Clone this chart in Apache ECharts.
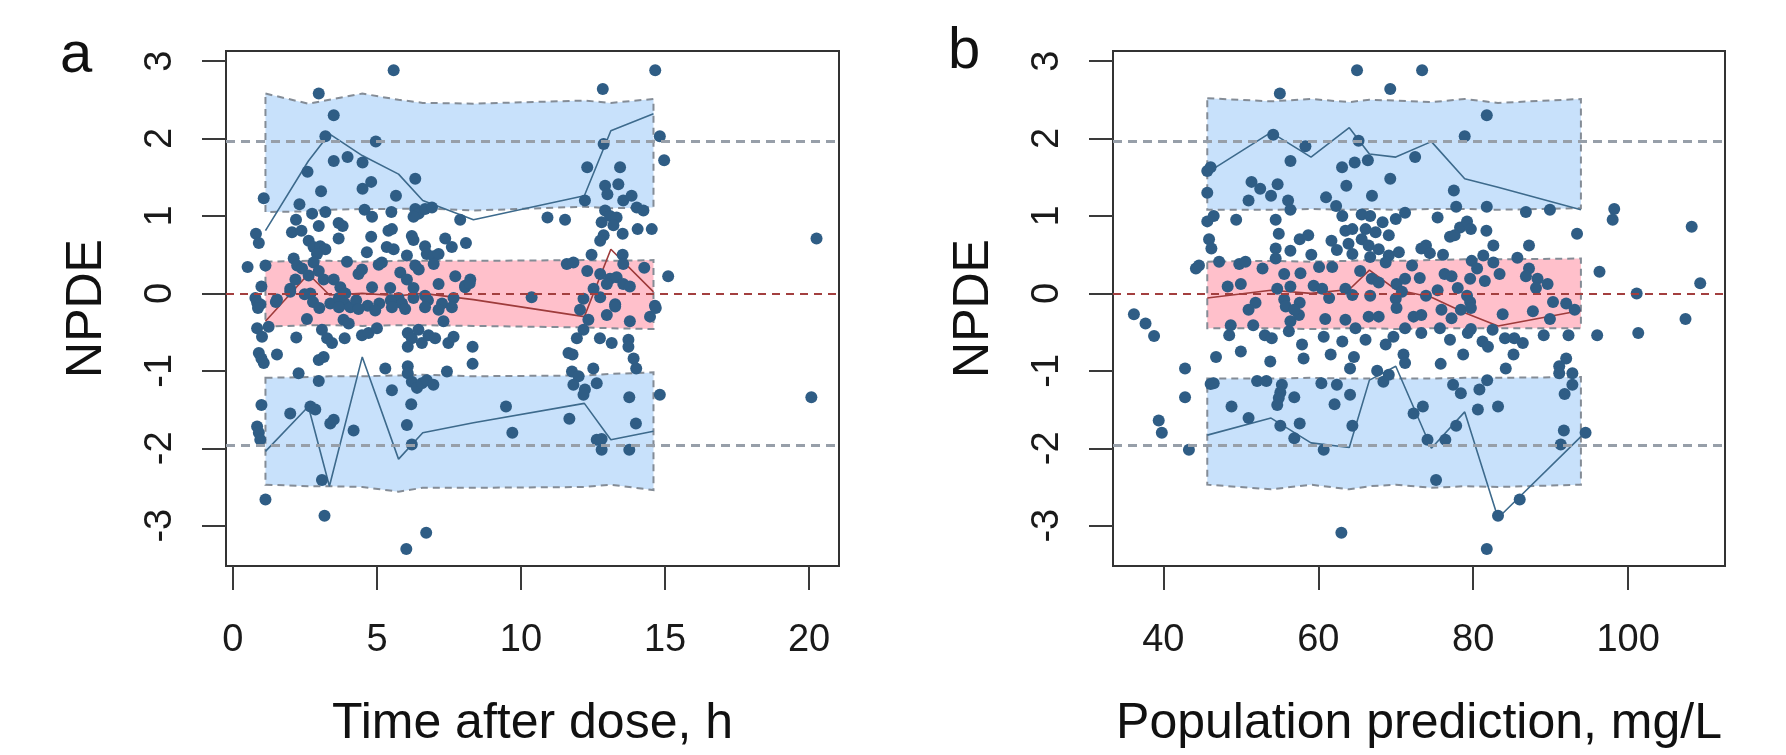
<!DOCTYPE html>
<html>
<head>
<meta charset="utf-8">
<script src="https://cdn.jsdelivr.net/npm/echarts@6/dist/echarts.min.js"></script>
<style>
html, body { margin: 0; padding: 0; background: #fff; }
#chart { width: 1786px; height: 755px; }
</style>
</head>
<body>
<div id="chart"></div>
<script>
// tick labels
var xTicksA = [0, 5, 10, 15, 20];
var xTicksB = [40, 60, 80, 100];
var yTicks = [-3, -2, -1, 0, 1, 2, 3];

// panel a: NPDE vs time after dose
var pointsA = [
  [5.58,2.88],[2.98,2.58],[3.50,2.30],[3.21,2.03],[4.96,1.96],[2.59,1.57],[3.50,1.71],[3.98,1.76],[4.50,1.69],[4.80,1.44],
  [4.50,1.35],[6.33,1.48],[1.07,1.23],[3.06,1.32],[5.66,1.26],[2.31,1.15],[2.75,1.03],[3.21,1.05],[4.57,1.08],[4.83,0.99],
  [5.50,1.05],[6.33,1.09],[6.45,1.03],[6.67,1.09],[6.91,1.11],[6.27,0.99],[7.89,0.95],[2.19,0.95],[2.98,0.87],[3.67,0.91],
  [3.81,0.87],[3.67,0.71],[2.05,0.79],[2.38,0.81],[0.80,0.77],[0.90,0.65],[2.63,0.68],[2.80,0.60],[3.03,0.61],[3.21,0.57],
  [2.92,0.51],[4.80,0.73],[5.40,0.81],[5.52,0.83],[6.21,0.74],[6.27,0.69],[5.34,0.60],[5.58,0.57],[4.65,0.53],[6.04,0.49],
  [6.67,0.61],[6.73,0.51],[6.97,0.48],[7.14,0.51],[7.37,0.71],[7.60,0.60],[8.09,0.65],[2.11,0.45],[2.23,0.36],[0.51,0.34],
  [1.13,0.36],[0.99,0.09],[3.96,0.41],[5.06,0.37],[5.17,0.40],[4.36,0.25],[4.48,0.31],[5.81,0.27],[6.04,0.18],[6.45,0.31],
  [6.33,0.36],[6.97,0.38],[7.72,0.22],[8.24,0.18],[8.06,0.10],[7.14,0.12],[4.83,0.08],[1.99,0.06],[2.40,0.32],[2.63,0.23],
  [2.80,0.40],[2.98,0.29],[3.15,0.18],[3.50,0.18],[3.73,0.08],[3.90,0.00],[2.69,0.00],[1.53,-0.08],[0.78,-0.06],[5.46,0.07],
  [5.75,-0.06],[6.67,-0.03],[6.27,0.07],[2.17,0.18],
  [0.84,-0.12],[0.95,-0.14],[1.49,-0.11],[1.99,0.02],[2.49,-0.01],[2.78,-0.11],[3.38,-0.13],[3.68,-0.06],[3.88,-0.13],[4.08,-0.18],
  [4.28,-0.09],[4.68,-0.16],[5.08,-0.13],[5.48,-0.09],[5.87,-0.13],[6.27,-0.06],[6.77,-0.09],[7.26,-0.13],[7.66,-0.06],[8.06,0.08],
  [8.22,0.13],[3.00,-0.19],[3.68,-0.18],[4.36,-0.20],[4.94,-0.22],[5.52,-0.18],[5.98,-0.20],[6.67,-0.18],[7.14,-0.21],[7.60,-0.18],
  [0.87,-0.19],[0.84,-0.45],[1.01,-0.56],[1.24,-0.43],[0.90,-0.77],[1.07,-0.90],[0.99,-0.84],[1.53,-0.79],[2.20,-0.57],[2.57,-0.33],
  [3.09,-0.47],[3.27,-0.58],[3.44,-0.64],[3.84,-0.34],[4.02,-0.39],[3.88,-0.58],[4.48,-0.54],[4.71,-0.51],[5.00,-0.45],[3.15,-0.82],
  [2.98,-0.86],[2.28,-1.03],[2.98,-1.13],[5.29,-0.97],[5.52,-1.25],[6.07,-0.51],[6.21,-0.58],[6.44,-0.47],[6.56,-0.64],[6.79,-0.54],
  [7.02,-0.58],[7.31,-0.36],[7.48,-0.64],[7.66,-0.56],[6.07,-0.69],[6.07,-0.94],[6.07,-1.03],[6.21,-1.14],[6.39,-1.22],[6.56,-1.16],
  [6.73,-1.12],[6.96,-1.18],[7.43,-1.01],[8.32,-0.69],[8.32,-0.91],[6.19,-1.43],[6.04,-1.70],[6.21,-1.95],[0.99,-1.44],[0.84,-1.72],
  [0.90,-1.80],[0.95,-1.89],[1.99,-1.55],[2.69,-1.46],[2.86,-1.50],[3.38,-1.68],[3.50,-1.63],[4.19,-1.77],[3.09,-2.41],[1.13,-2.66],
  [3.18,-2.87],[6.71,-3.09],[6.02,-3.30],[9.48,-1.46],[9.70,-1.80],
  [14.66,2.88],[12.84,2.64],[14.82,2.03],[12.87,1.93],[14.97,1.72],[12.30,1.63],[13.44,1.63],[13.38,1.41],[12.92,1.39],[13.00,1.28],
  [12.22,1.20],[13.55,1.20],[13.84,1.26],[14.02,1.11],[14.25,1.07],[10.92,0.98],[11.53,0.95],[12.92,1.07],[12.80,0.92],[13.09,1.00],
  [13.32,0.98],[13.21,0.88],[13.53,0.77],[14.05,0.83],[14.54,0.83],[12.87,0.75],[12.75,0.68],[20.26,0.71],[12.45,0.50],[13.53,0.50],
  [11.59,0.38],[11.82,0.40],[13.55,0.38],[14.28,0.33],[12.30,0.29],[12.75,0.25],[15.11,0.22],[13.09,0.19],[13.32,0.21],[13.55,0.12],
  [13.78,0.09],[12.52,0.06],[12.98,0.12],[12.75,-0.05],[12.17,-0.07],[14.65,-0.16],[10.37,-0.05],[13.27,-0.14],
  [12.05,-0.21],[12.34,-0.34],[12.98,-0.28],[13.78,-0.36],[14.48,-0.30],[14.68,-0.19],[13.27,-0.17],[12.17,-0.47],[11.94,-0.58],[12.74,-0.58],
  [13.15,-0.64],[13.73,-0.60],[13.73,-0.69],[11.65,-0.77],[11.79,-0.79],[13.91,-0.84],[14.00,-0.97],[12.51,-0.97],[11.77,-1.01],[12.00,-1.07],
  [11.82,-1.18],[12.22,-1.24],[12.63,-1.16],[12.17,-1.31],[13.76,-1.34],[14.82,-1.31],[20.08,-1.34],[11.68,-1.62],[13.99,-1.68],[12.63,-1.89],
  [12.80,-2.02],[13.76,-2.02],[12.80,-1.88]
];

// panel a: bins, observed percentiles, prediction interval bands
var binsA = [1.13, 2.62, 3.35, 4.49, 5.75, 6.59, 8.35, 12.2, 13.12, 14.6];
var p95A = [0.81, 1.71, 2.06, 1.78, 1.54, 1.20, 0.95, 1.26, 2.10, 2.32];
var p50A = [-0.36, 0.25, -0.02, 0.00, -0.03, 0.00, -0.08, -0.30, 0.57, 0.02];
var p05A = [-2.04, -1.46, -2.49, -0.82, -2.14, -1.80, -1.67, -1.42, -1.89, -1.78];
var upTopA = [2.58, 2.45, 2.50, 2.58, 2.50, 2.46, 2.45, 2.49, 2.46, 2.51];
var upBotA = [1.05, 1.06, 1.08, 1.09, 1.09, 1.10, 1.07, 1.12, 1.10, 1.11];
var midTopA = [0.41, 0.42, 0.42, 0.41, 0.42, 0.42, 0.42, 0.43, 0.42, 0.43];
var midBotA = [-0.43, -0.41, -0.41, -0.42, -0.41, -0.41, -0.42, -0.44, -0.45, -0.46];
var lowTopA = [-1.09, -1.08, -1.07, -1.07, -1.06, -1.05, -1.07, -1.06, -1.04, -1.02];
var lowBotA = [-2.47, -2.49, -2.49, -2.50, -2.56, -2.51, -2.51, -2.50, -2.47, -2.54];

// panel b: NPDE vs population prediction
var pointsB = [
  [65.0,2.88],[69.29,2.64],[55.04,2.58],[73.4,2.88],[54.18,2.05],[58.34,1.90],[65.2,1.97],[45.67,1.58],[46.1,1.63],[56.41,1.71],
  [63.07,1.63],[64.7,1.69],[66.4,1.72],[72.5,1.76],[69.29,1.48],[45.67,1.30],[51.38,1.44],[52.5,1.35],[54.75,1.41],[53.9,1.26],
  [51.0,1.20],[56.1,1.20],[56.4,1.08],[63.62,1.39],[66.93,1.26],[61.0,1.24],[62.3,1.13],[45.67,0.93],[46.5,1.00],[49.4,0.95],
  [54.5,0.95],[63.1,1.00],[63.5,0.81],[64.4,0.83],[65.6,1.02],[66.7,1.00],[66.1,0.83],[67.4,0.79],[68.3,0.92],[69.1,0.75],
  [70.0,0.96],[71.2,1.04],[45.9,0.70],[46.2,0.58],[54.9,0.77],[54.5,0.58],[57.6,0.70],[58.7,0.75],[56.4,0.55],[59.1,0.50],
  [61.7,0.68],[62.4,0.56],[63.9,0.64],[64.4,0.51],[65.6,0.70],[66.5,0.62],[66.7,0.47],[67.8,0.57],[69.1,0.49],[70.4,0.53],
  [44.6,0.36],[44.2,0.32],[47.2,0.41],[49.8,0.38],[50.6,0.41],[52.8,0.32],[54.5,0.45],[55.6,0.25],[57.7,0.26],[60.1,0.34],
  [61.8,0.34],[48.3,0.09],[50.0,0.12],[54.7,0.06],[56.4,0.09],[59.4,0.10],[60.5,0.06],[63.5,0.06],[64.4,-0.02],[65.4,0.29],
  [66.9,0.19],[67.8,0.14],[68.7,0.40],[70.1,0.12],[71.2,0.19],[72.1,0.36],[55.6,-0.08],[57.6,-0.12],[61.4,-0.06],[51.9,-0.12],
  [70.0,-0.07],[70.8,0.02],[66.7,-0.03],
  [36.2,-0.27],[37.7,-0.39],[38.8,-0.55],[42.8,-0.97],[42.8,-1.34],[39.4,-1.64],[39.8,-1.80],[43.3,-2.02],[46.8,-0.82],[48.5,-0.54],
  [48.7,-0.41],[50.0,-0.75],[46.1,-1.17],[46.5,-1.16],[48.8,-1.46],[51.0,-1.61],[52.1,-1.13],[53.3,-1.13],[53.8,-0.88],[55.3,-1.18],
  [55.1,-1.28],[54.9,-1.35],[54.7,-1.44],[55.1,-1.71],[56.9,-1.34],[57.6,-1.68],[56.9,-1.87],[60.7,-2.02],[57.9,-0.66],[58.1,-0.84],
  [56.2,-0.49],[60.4,-1.16],[62.4,-1.18],[62.1,-1.43],[64.1,-1.31],[64.4,-1.71],[61.6,-0.79],[60.7,-0.56],[63.1,-0.62],[64.6,-0.82],
  [64.1,-0.97],[67.6,-1.00],[68.4,-1.14],[69.1,-1.05],[66.1,-0.60],[68.7,-0.66],[69.7,-0.56],[71.2,-0.45],[71.0,-0.79],[71.2,-0.90],
  [72.3,-1.55],[62.98,-3.09],[51.0,-0.21],[51.6,-0.41],[53.1,-0.54],[54.0,-0.58],[56.4,-0.36],[57.5,-0.28],[60.9,-0.33],[63.5,-0.34],
  [64.8,-0.45],[66.5,-0.30],[67.8,-0.30],[70.1,-0.19],[72.3,-0.30],[55.8,-0.17],[56.9,-0.21],
  [81.75,2.30],[78.9,2.03],[77.5,1.33],[77.8,1.12],[81.75,1.12],[75.4,0.98],[86.8,1.05],[89.9,1.08],[98.2,1.09],[98.0,0.95],
  [108.2,0.86],[93.4,0.77],[78.3,0.85],[79.2,0.93],[79.7,0.83],[81.7,0.81],[77.0,0.73],[77.6,0.75],[73.9,0.62],[73.3,0.58],
  [74.4,0.52],[76.1,0.50],[82.6,0.62],[87.2,0.62],[85.7,0.46],[79.8,0.42],[81.3,0.49],[82.6,0.40],[80.5,0.32],[83.4,0.25],
  [76.3,0.25],[77.2,0.22],[73.1,0.20],[79.6,0.19],[81.5,0.16],[87.2,0.32],[86.8,0.22],[88.3,0.19],[89.6,0.12],[88.1,0.07],
  [78.0,0.07],[75.4,0.04],[79.2,-0.03],[96.3,0.28],[101.1,0.00],[109.3,0.13],[90.3,-0.11],[92.0,-0.13],[73.9,-0.03],[79.6,-0.11],
  [107.4,-0.33],[101.3,-0.51],[96.0,-0.54],[92.3,-0.54],[89.1,-0.54],[89.9,-0.33],[87.7,-0.23],[83.8,-0.27],[73.3,-0.51],[75.7,-0.45],
  [77.0,-0.60],[79.3,-0.51],[79.7,-0.46],[81.2,-0.62],[81.9,-0.69],[82.5,-0.47],[84.1,-0.58],[85.3,-0.58],[86.4,-0.64],[78.7,-0.79],
  [75.8,-0.91],[85.2,-0.79],[84.2,-0.97],[92.0,-0.84],[91.1,-0.94],[91.1,-1.03],[92.8,-1.03],[92.8,-1.18],[91.8,-1.30],[77.4,-1.18],
  [78.4,-1.29],[80.8,-1.24],[81.8,-1.12],[80.6,-1.50],[83.2,-1.46],[73.5,-1.46],[77.8,-1.71],[74.1,-1.89],[76.4,-1.89],[75.2,-2.41],
  [91.7,-1.77],[91.3,-1.95],[94.5,-1.80],[86.0,-2.66],[83.2,-2.87],[81.75,-3.30],[73.3,-0.28],[75.9,-0.21],[77.2,-0.32],[78.4,-0.21],
  [79.7,-0.19],[93.1,-0.21]
];

// panel b: bins, observed percentiles, prediction interval bands
var binsB = [45.67, 53.9, 59.06, 64.0, 66.6, 70.0, 74.6, 78.9, 83.2, 93.9];
var p95B = [1.56, 2.08, 1.76, 2.14, 1.80, 1.76, 1.96, 1.48, 1.37, 1.08];
var p50B = [-0.06, 0.04, 0.00, 0.05, 0.30, 0.05, -0.05, -0.25, -0.42, -0.22];
var p05B = [-1.83, -1.61, -1.93, -1.99, -1.12, -0.94, -2.00, -1.53, -2.90, -1.85];
var upTopB = [2.52, 2.48, 2.51, 2.47, 2.50, 2.49, 2.47, 2.51, 2.46, 2.51];
var upBotB = [1.08, 1.08, 1.09, 1.08, 1.09, 1.08, 1.09, 1.09, 1.08, 1.10];
var midTopB = [0.41, 0.42, 0.41, 0.42, 0.43, 0.42, 0.43, 0.44, 0.44, 0.45];
var midBotB = [-0.45, -0.45, -0.46, -0.45, -0.45, -0.46, -0.45, -0.45, -0.45, -0.45];
var lowTopB = [-1.10, -1.10, -1.09, -1.10, -1.10, -1.10, -1.10, -1.09, -1.09, -1.08];
var lowBotB = [-2.47, -2.53, -2.47, -2.53, -2.49, -2.47, -2.51, -2.49, -2.50, -2.47];

var FONT = '"Liberation Sans", Arial, sans-serif';
var BLUE_BAND = '#c8e1fb';
var PINK_BAND = '#ffc0cb';
var DOT = '#2f5d85';

function zip(xs, ys) {
  var out = [];
  for (var i = 0; i < xs.length; i++) out.push([xs[i], ys[i]]);
  return out;
}

function band(xs, lo, hi, fill, gi) {
  return {
    type: 'custom', xAxisIndex: gi, yAxisIndex: gi, z: 1, silent: true,
    data: [[xs[0], lo[0]]],
    renderItem: function (params, api) {
      var pts = [];
      for (var i = 0; i < xs.length; i++) pts.push(api.coord([xs[i], hi[i]]));
      for (var j = xs.length - 1; j >= 0; j--) pts.push(api.coord([xs[j], lo[j]]));
      return {
        type: 'polygon',
        shape: { points: pts },
        style: { fill: fill, stroke: '#848c96', lineWidth: 2, lineDash: [7, 5] }
      };
    }
  };
}

function pctLine(xs, ys, color, gi, withRefs) {
  var s = {
    type: 'line', xAxisIndex: gi, yAxisIndex: gi, z: 3, silent: true,
    data: zip(xs, ys), symbol: 'none',
    lineStyle: { color: color, width: 1.6 }
  };
  if (withRefs) {
    s.markLine = {
      silent: true, symbol: 'none', label: { show: false },
      data: [
        { yAxis: 0, lineStyle: { color: '#a33f3f', type: [8, 6], width: 2 } },
        { yAxis: 1.96, lineStyle: { color: '#979fa9', type: [9, 6], width: 3 } },
        { yAxis: -1.96, lineStyle: { color: '#979fa9', type: [9, 6], width: 3 } }
      ]
    };
  }
  return s;
}

function xAxis(gi, min, max, ticks, name) {
  return {
    gridIndex: gi, type: 'value', min: min, max: max,
    axisLine: { show: false, onZero: false }, splitLine: { show: false },
    axisTick: { show: true, inside: false, length: 24, customValues: ticks, lineStyle: { color: '#3a3a3a', width: 2 } },
    axisLabel: { customValues: ticks, margin: 56, fontSize: 38, color: '#1a1a1a', fontFamily: FONT },
    name: name, nameLocation: 'middle', nameGap: 133,
    nameTextStyle: { fontSize: 50, color: '#111', fontFamily: FONT }
  };
}

function yAxis(gi) {
  return {
    gridIndex: gi, type: 'value', min: -3.52, max: 3.13,
    axisLine: { show: false, onZero: false }, splitLine: { show: false },
    axisTick: { show: true, inside: false, length: 24, customValues: yTicks, lineStyle: { color: '#3a3a3a', width: 2 } },
    axisLabel: { customValues: yTicks, rotate: 90, margin: 46, fontSize: 38, color: '#1a1a1a', fontFamily: FONT },
    name: 'NPDE', nameLocation: 'middle', nameGap: 114,
    nameTextStyle: { fontSize: 50, color: '#111', fontFamily: FONT }
  };
}

var chart = echarts.init(document.getElementById('chart'));
chart.setOption({
  animation: false,
  backgroundColor: '#fff',
  grid: [
    { left: 226, top: 51, width: 613, height: 515, show: true, borderColor: '#333', borderWidth: 2 },
    { left: 1113, top: 51, width: 612, height: 515, show: true, borderColor: '#333', borderWidth: 2 }
  ],
  xAxis: [
    xAxis(0, -0.24, 21.04, xTicksA, 'Time after dose, h'),
    xAxis(1, 33.5, 112.5, xTicksB, 'Population prediction, mg/L')
  ],
  yAxis: [yAxis(0), yAxis(1)],
  graphic: [
    { type: 'text', left: 60, top: 27, style: { text: 'a', fontSize: 58, fill: '#111', fontFamily: FONT } },
    { type: 'text', left: 948, top: 23, style: { text: 'b', fontSize: 58, fill: '#111', fontFamily: FONT } }
  ],
  series: [
    band(binsA, upBotA, upTopA, BLUE_BAND, 0),
    band(binsA, midBotA, midTopA, PINK_BAND, 0),
    band(binsA, lowBotA, lowTopA, BLUE_BAND, 0),
    pctLine(binsA, p95A, '#3d6a8c', 0, true),
    pctLine(binsA, p50A, '#9e3b3b', 0, false),
    pctLine(binsA, p05A, '#3d6a8c', 0, false),
    { type: 'scatter', xAxisIndex: 0, yAxisIndex: 0, z: 4, data: pointsA, symbolSize: 12, itemStyle: { color: DOT, opacity: 1 } },
    band(binsB, upBotB, upTopB, BLUE_BAND, 1),
    band(binsB, midBotB, midTopB, PINK_BAND, 1),
    band(binsB, lowBotB, lowTopB, BLUE_BAND, 1),
    pctLine(binsB, p95B, '#3d6a8c', 1, true),
    pctLine(binsB, p50B, '#9e3b3b', 1, false),
    pctLine(binsB, p05B, '#3d6a8c', 1, false),
    { type: 'scatter', xAxisIndex: 1, yAxisIndex: 1, z: 4, data: pointsB, symbolSize: 12, itemStyle: { color: DOT, opacity: 1 } }
  ]
});
</script>
</body>
</html>
